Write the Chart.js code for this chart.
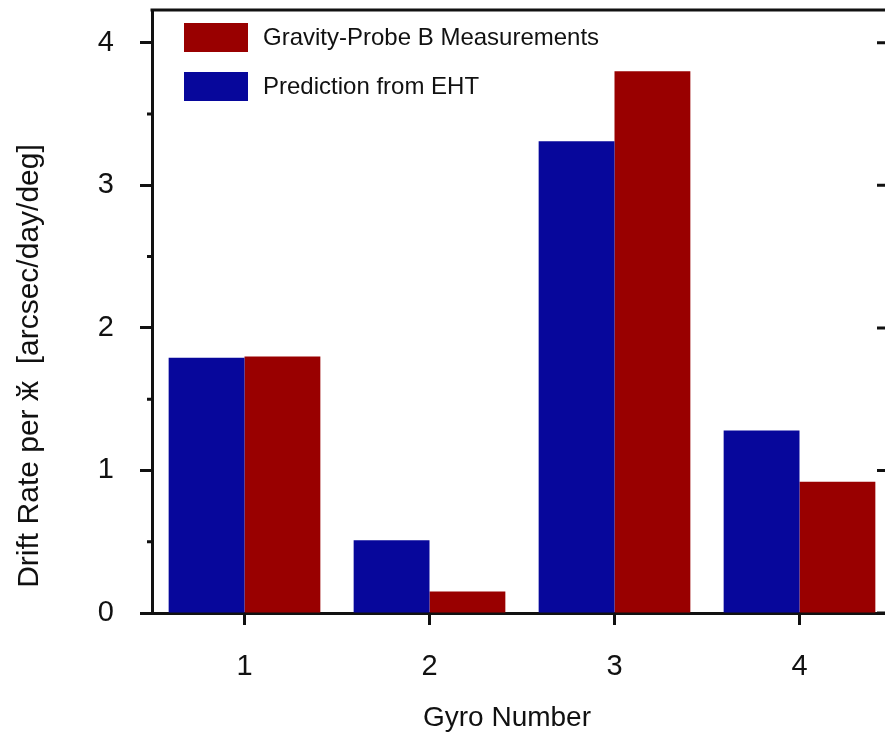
<!DOCTYPE html>
<html>
<head>
<meta charset="utf-8">
<script src="https://cdn.jsdelivr.net/npm/chart.js@4.4.1/dist/chart.umd.min.js"></script>
<style>
  html, body { margin: 0; padding: 0; background: #fff; overflow: hidden; }
  #wrap { width: 885px; height: 740px; overflow: hidden; }
</style>
</head>
<body>
<div id="wrap"><canvas id="chart" width="900" height="740"></canvas></div>
<script>
// data
const gyros = ['1', '2', '3', '4'];
const predictedEHT = [1.79, 0.51, 3.31, 1.28];
const measuredGPB = [1.80, 0.15, 3.80, 0.92];
const yMajorTicks = [0, 1, 2, 3, 4];
const yMinorTicks = [0.5, 1.5, 2.5, 3.5];

const labelPredicted = 'Prediction from EHT';
const labelMeasured = 'Gravity-Probe B Measurements';
const xTitle = 'Gyro Number';
const yTitle = 'Drift Rate per \u04C2  [arcsec/day/deg]';

const BLUE = '#07079b';
const RED = '#990000';
const INK = '#111111';
const FONT = "'Liberation Sans', Arial, sans-serif";

// frame, extra ticks (minor + right side), legend and axis titles
const decorations = {
  id: 'decorations',
  afterDraw(chart) {
    const ctx = chart.ctx;
    const area = chart.chartArea;
    const y = chart.scales.y;
    ctx.save();
    ctx.strokeStyle = INK;
    ctx.lineWidth = 3;
    ctx.beginPath();
    ctx.moveTo(area.left - 1.5, area.top);
    ctx.lineTo(area.right, area.top);
    ctx.moveTo(area.right, area.top);
    ctx.lineTo(area.right, area.bottom);
    ctx.stroke();

    // left minor ticks (outward) and right ticks (inward)
    ctx.beginPath();
    yMinorTicks.forEach(v => {
      const py = y.getPixelForValue(v);
      ctx.moveTo(area.left - 5, py);
      ctx.lineTo(area.left, py);
      ctx.moveTo(area.right - 6, py);
      ctx.lineTo(area.right, py);
    });
    yMajorTicks.forEach(v => {
      const py = y.getPixelForValue(v);
      ctx.moveTo(area.right - 15, py);
      ctx.lineTo(area.right, py);
    });
    ctx.stroke();

    // legend inside the plot, top left
    const items = [
      { text: labelMeasured, color: RED },
      { text: labelPredicted, color: BLUE }
    ];
    ctx.font = '24px ' + FONT;
    ctx.textBaseline = 'middle';
    ctx.textAlign = 'left';
    items.forEach((it, i) => {
      const bx = area.left + 32;
      const by = area.top + 13 + i * 49;
      ctx.fillStyle = it.color;
      ctx.fillRect(bx, by, 64, 29);
      ctx.fillStyle = INK;
      ctx.fillText(it.text, bx + 79, by + 15);
    });

    // axis titles
    ctx.textAlign = 'center';
    ctx.font = '28px ' + FONT;
    ctx.fillText(xTitle, 507, 718);
    ctx.font = '30px ' + FONT;
    ctx.translate(30, 366);
    ctx.rotate(-Math.PI / 2);
    ctx.fillText(yTitle, 0, 0);
    ctx.restore();
  }
};

new Chart(document.getElementById('chart'), {
  type: 'bar',
  data: {
    labels: gyros,
    datasets: [
      { label: labelPredicted, data: predictedEHT, backgroundColor: BLUE },
      { label: labelMeasured, data: measuredGPB, backgroundColor: RED }
    ]
  },
  options: {
    responsive: false,
    devicePixelRatio: 1,
    animation: false,
    layout: { padding: { top: 10, right: 8, left: 0, bottom: 0 } },
    datasets: { bar: { categoryPercentage: 0.82, barPercentage: 1.0 } },
    plugins: {
      legend: { display: false },
      tooltip: { enabled: false }
    },
    scales: {
      x: {
        grid: { offset: false, drawOnChartArea: false, tickLength: 12, tickWidth: 3, tickColor: INK },
        border: { display: true, color: INK, width: 3 },
        ticks: { color: INK, padding: 25, font: { family: FONT, size: 29 } },
        afterFit(scale) {
          scale.height = 127;
          scale.paddingLeft = 0;
          scale.paddingRight = 0;
        }
      },
      y: {
        min: 0,
        max: 4.23,
        afterBuildTicks(scale) { scale.ticks = yMajorTicks.map(v => ({ value: v })); },
        grid: { drawOnChartArea: false, tickLength: 12, tickWidth: 3, tickColor: INK },
        border: { display: true, color: INK, width: 3 },
        ticks: { color: INK, padding: 26, font: { family: FONT, size: 29 } },
        afterFit(scale) {
          scale.width = 152;
          scale.paddingTop = 0;
          scale.paddingBottom = 0;
        }
      }
    }
  },
  plugins: [decorations]
});
</script>
</body>
</html>
